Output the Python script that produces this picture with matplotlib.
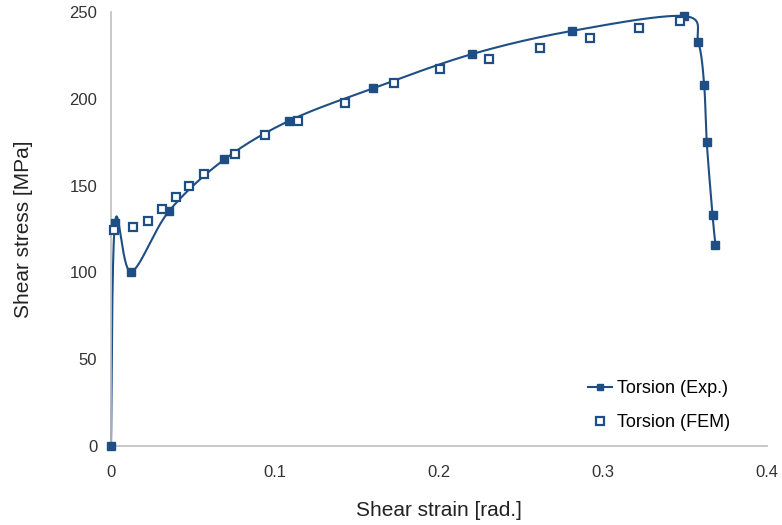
import numpy as np
import matplotlib.pyplot as plt

plt.rcParams['font.family'] = ['Liberation Sans', 'DejaVu Sans']

# Experimental torsion data
exp_strain = [0.0, 0.0024, 0.0122, 0.0354, 0.0691, 0.1087, 0.1596, 0.2201,
              0.2813, 0.3494, 0.3581, 0.3616, 0.3632, 0.3667, 0.3685]
exp_stress = [0.0, 128.6, 100.4, 135.4, 165.1, 187.4, 206.0, 225.8,
              239.2, 247.7, 232.5, 208.1, 174.9, 133.1, 115.8]

# FEM torsion data
fem_strain = [0.0018, 0.0132, 0.0226, 0.0309, 0.0398, 0.0478, 0.0569, 0.0756,
              0.0941, 0.1140, 0.1429, 0.1724, 0.2004, 0.2305, 0.2614, 0.2923,
              0.3221, 0.3471]
fem_stress = [124.4, 126.2, 129.8, 136.3, 143.2, 149.8, 156.9, 168.4,
              179.0, 187.2, 197.8, 208.9, 217.0, 223.1, 229.4, 235.2,
              240.6, 245.0]

color = '#1f4e85'


def smooth(xs, ys, n=40):
    # bezier smoothing through the points, like a spreadsheet smoothed line
    x = np.asarray(xs, float)
    y = np.asarray(ys, float)
    px, py = [], []
    for i in range(len(x) - 1):
        x0, y0 = (x[i - 1], y[i - 1]) if i > 0 else (x[i], y[i])
        x3, y3 = (x[i + 2], y[i + 2]) if i + 2 < len(x) else (x[i + 1], y[i + 1])
        c1x = x[i] + (x[i + 1] - x0) / 6
        c1y = y[i] + (y[i + 1] - y0) / 6
        c2x = x[i + 1] - (x3 - x[i]) / 6
        c2y = y[i + 1] - (y3 - y[i]) / 6
        t = np.linspace(0, 1, n)
        b0, b1, b2, b3 = (1 - t) ** 3, 3 * t * (1 - t) ** 2, 3 * t ** 2 * (1 - t), t ** 3
        px.extend(b0 * x[i] + b1 * c1x + b2 * c2x + b3 * x[i + 1])
        py.extend(b0 * y[i] + b1 * c1y + b2 * c2y + b3 * y[i + 1])
    return px, py


fig = plt.figure(figsize=(7.82, 5.25), dpi=100)
ax = fig.add_axes([0.142, 0.1505, 0.839, 0.8265])

sx, sy = smooth(exp_strain, exp_stress)
ax.plot(sx, sy, color=color, lw=1.5, zorder=2, clip_on=False)
ax.plot(exp_strain, exp_stress, 's', color=color, ms=6, zorder=3, clip_on=False)
ax.plot([], [], '-s', color=color, ms=5, lw=1.5, label='Torsion (Exp.)')
ax.plot(fem_strain, fem_stress, 's', mfc='white', mec=color, mew=1.6, ms=6,
        ls='none', label='Torsion (FEM)', zorder=4, clip_on=False)

ax.set_xlim(0, 0.4)
ax.set_ylim(0, 250)
ax.set_xticks([0, 0.1, 0.2, 0.3, 0.4])
ax.set_xticklabels(['0', '0.1', '0.2', '0.3', '0.4'])
ax.set_yticks([0, 50, 100, 150, 200, 250])
ax.tick_params(length=0, labelsize=12, colors='#333333', pad=14)
ax.tick_params(axis='y', pad=10)

for s in ['top', 'right']:
    ax.spines[s].set_visible(False)
ax.spines['left'].set_color('#bfbfbf')
ax.spines['bottom'].set_color('#bfbfbf')
ax.spines['left'].set_linewidth(1.2)
ax.spines['bottom'].set_linewidth(1.2)

ax.set_xlabel('Shear strain [rad.]', fontsize=15, color='#222222', labelpad=15)
ax.set_ylabel('Shear stress [MPa]', fontsize=15, color='#222222', labelpad=26)

leg = ax.legend(loc='center left', bbox_to_anchor=(0.727, 0.093), frameon=False,
                fontsize=13, handlelength=1.33, labelspacing=0.95,
                handletextpad=0.25, borderpad=0, borderaxespad=0)

fig.savefig('out.png', dpi=100)
